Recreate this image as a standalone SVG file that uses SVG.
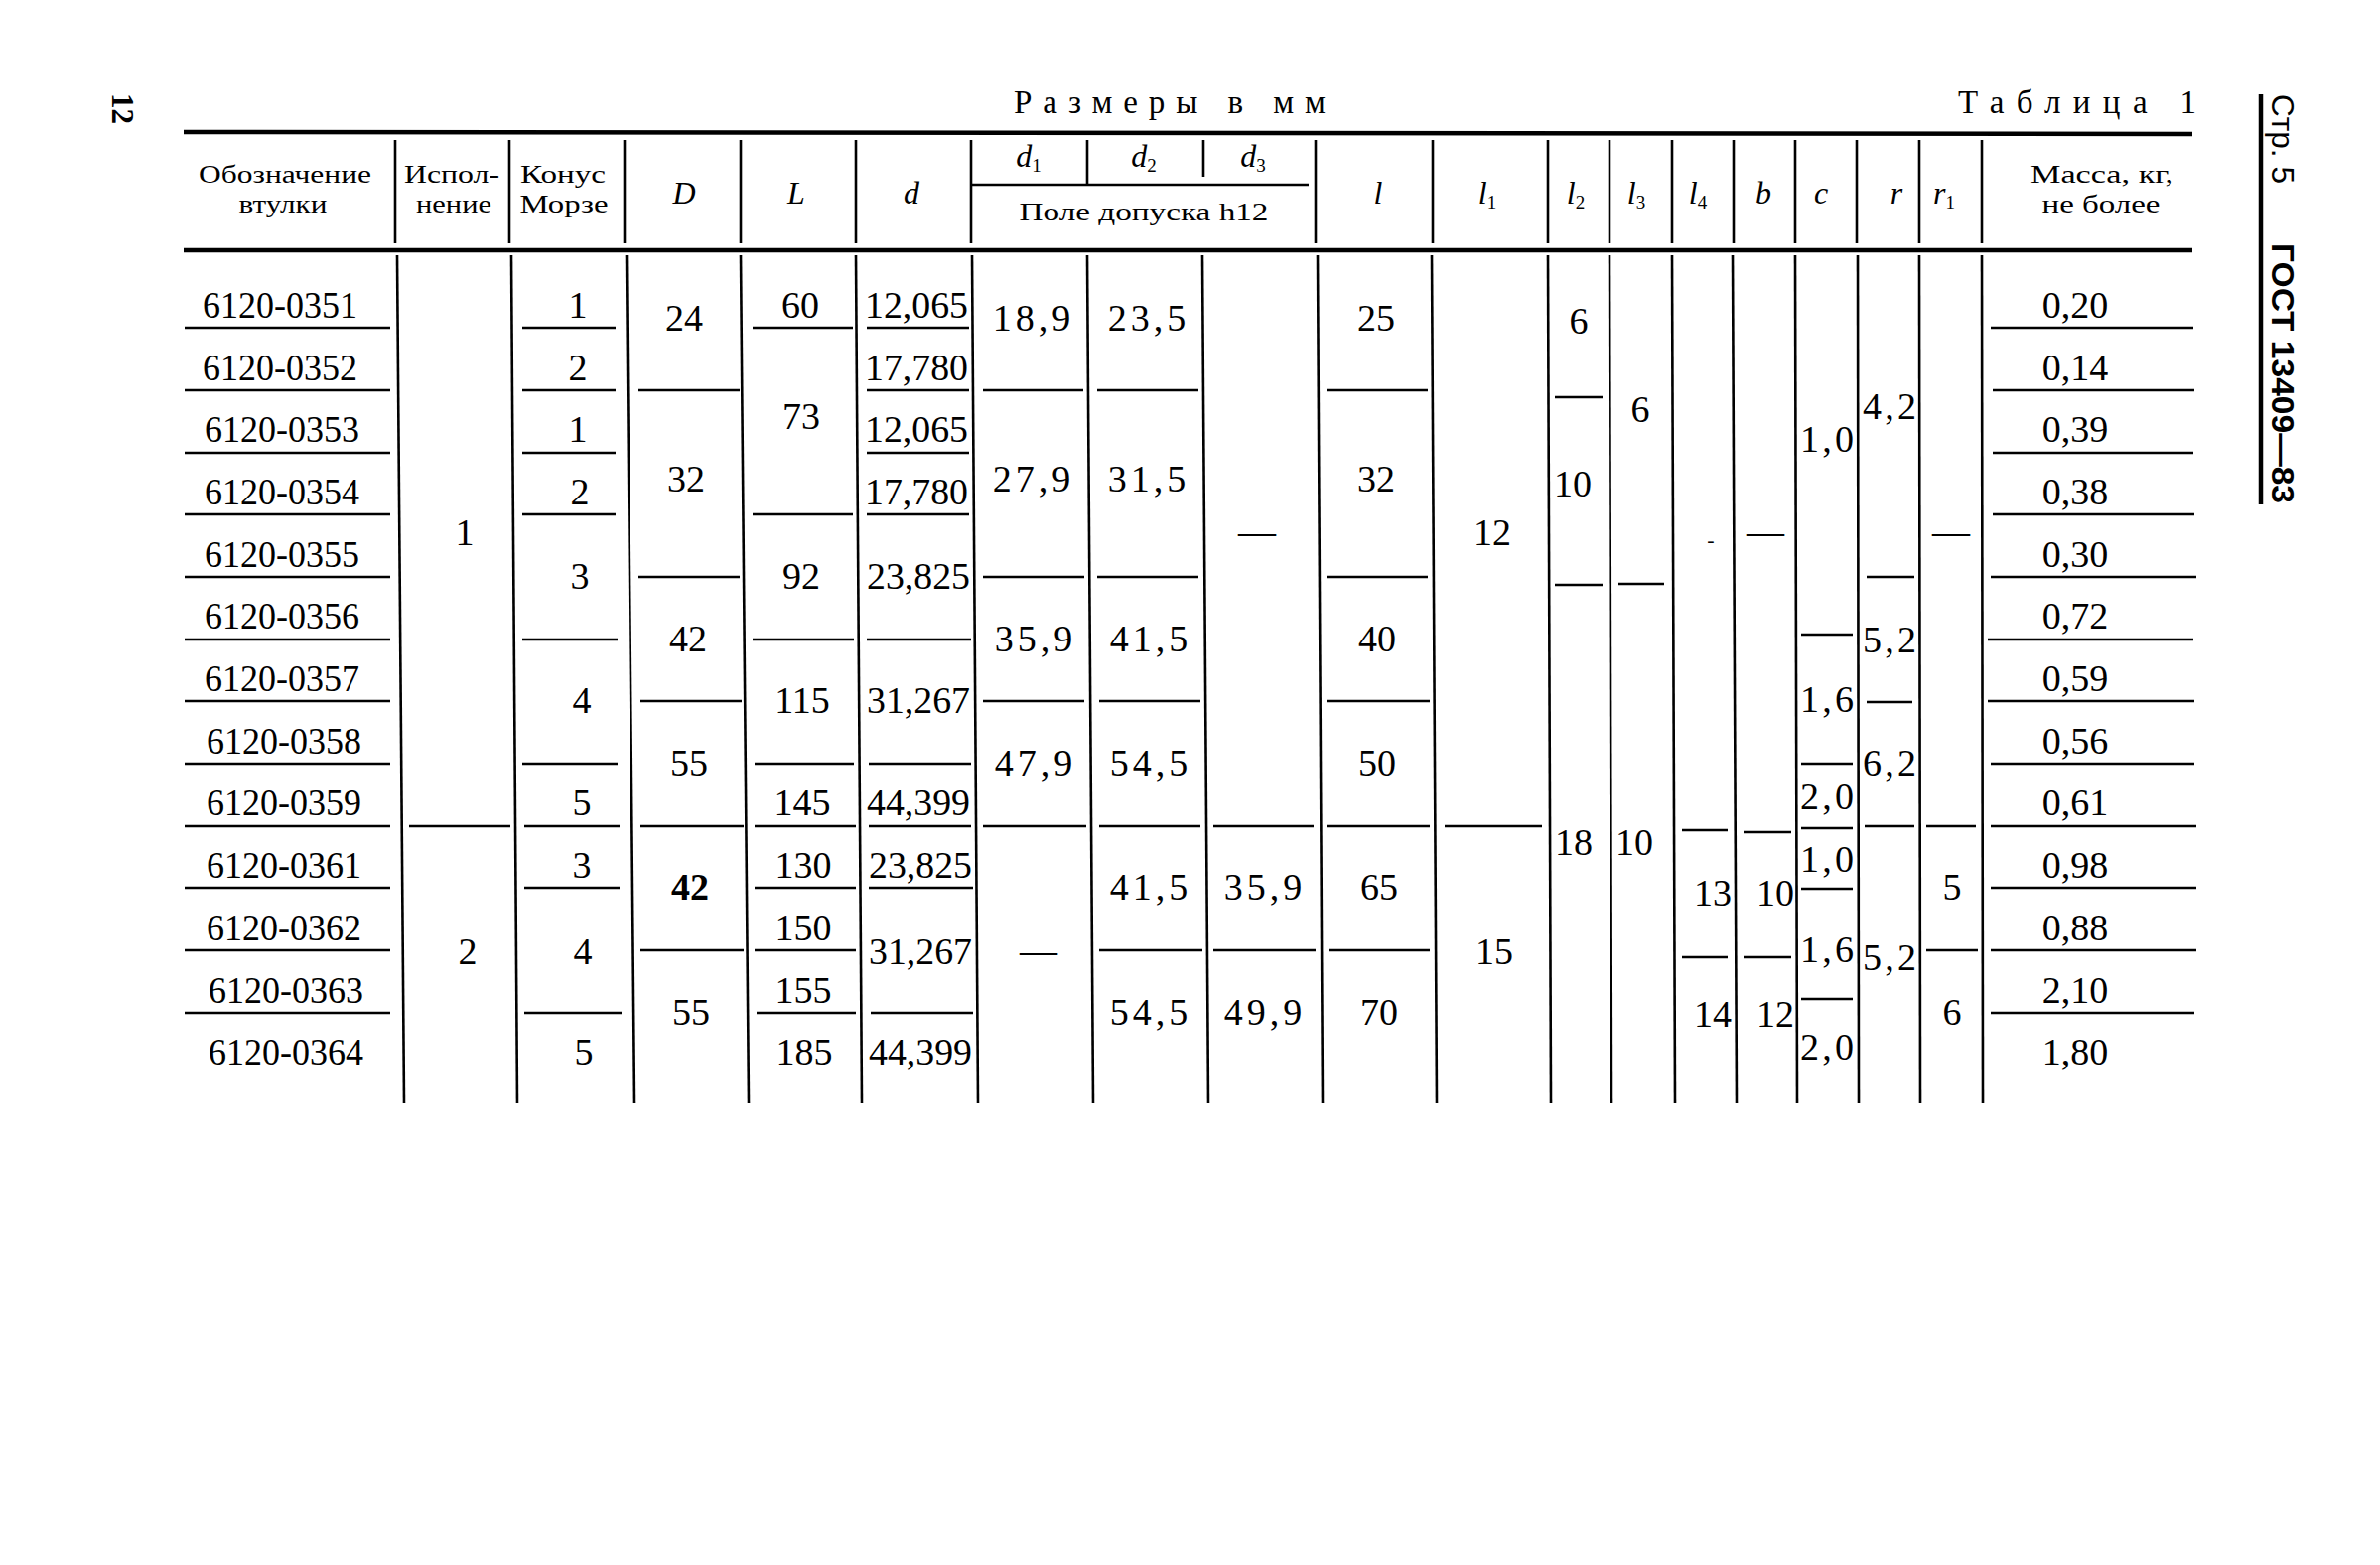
<svg xmlns="http://www.w3.org/2000/svg" width="2397" height="1576" viewBox="0 0 2397 1576">
<style>
text{font-family:"Liberation Serif","DejaVu Serif",serif;fill:#000}
.b{font-size:38px;text-anchor:middle}
.sp{letter-spacing:4px}
.h{font-size:26px;text-anchor:middle}
.i{font-size:32px;font-style:italic;text-anchor:middle}
.s{font-size:19px;font-style:normal}
.g line{stroke:#000;stroke-width:2.6}
.rule{stroke:#000;stroke-width:4.5}
</style>
<rect width="2397" height="1576" fill="#fff"/>
<g id="page">
<text transform="translate(113,94) rotate(90)" style="font-size:31px;font-weight:bold">12</text>
<text x="1021" y="114" style="font-size:33px" textLength="314" lengthAdjust="spacing">Размеры в мм</text>
<text x="1972" y="114" style="font-size:33px" textLength="240" lengthAdjust="spacing">Таблица 1</text>
<line x1="2277" y1="95" x2="2277" y2="508" class="rule"/>
<text transform="translate(2288,95) rotate(90)" style="font-family:'Liberation Sans',sans-serif;font-size:32px" textLength="90" lengthAdjust="spacingAndGlyphs">Стр. 5</text>
<text transform="translate(2288,245) rotate(90)" style="font-family:'Liberation Sans',sans-serif;font-size:32px;font-weight:bold" textLength="262" lengthAdjust="spacingAndGlyphs">ГОСТ 13409—83</text>
</g>
<g id="rules">
<line x1="185" y1="133" x2="2208" y2="135" class="rule"/>
<line x1="185" y1="252" x2="2208" y2="252" class="rule"/>
</g>
<g id="header-lines" class="g">
<line x1="398" y1="141" x2="398" y2="245"/>
<line x1="513" y1="141" x2="513" y2="245"/>
<line x1="629" y1="141" x2="629" y2="245"/>
<line x1="746" y1="141" x2="746" y2="245"/>
<line x1="862" y1="141" x2="862" y2="245"/>
<line x1="978" y1="141" x2="978" y2="245"/>
<line x1="1095" y1="141" x2="1095" y2="186"/>
<line x1="1212" y1="141" x2="1212" y2="178"/>
<line x1="978" y1="186" x2="1318" y2="186"/>
<line x1="1325" y1="141" x2="1325" y2="245"/>
<line x1="1443" y1="141" x2="1443" y2="245"/>
<line x1="1559" y1="141" x2="1559" y2="245"/>
<line x1="1621" y1="141" x2="1621" y2="245"/>
<line x1="1684" y1="141" x2="1684" y2="245"/>
<line x1="1746" y1="141" x2="1746" y2="245"/>
<line x1="1808" y1="141" x2="1808" y2="245"/>
<line x1="1870" y1="141" x2="1870" y2="245"/>
<line x1="1933" y1="141" x2="1933" y2="245"/>
<line x1="1996" y1="141" x2="1996" y2="245"/>
</g>
<g id="header-text">
<text class="h" x="287" y="184" textLength="174" lengthAdjust="spacingAndGlyphs">Обозначение</text>
<text class="h" x="285" y="214" textLength="89" lengthAdjust="spacingAndGlyphs">втулки</text>
<text class="h" x="455" y="184" textLength="96" lengthAdjust="spacingAndGlyphs">Испол-</text>
<text class="h" x="457" y="214" textLength="76" lengthAdjust="spacingAndGlyphs">нение</text>
<text class="h" x="567" y="184" textLength="86" lengthAdjust="spacingAndGlyphs">Конус</text>
<text class="h" x="568" y="214" textLength="89" lengthAdjust="spacingAndGlyphs">Морзе</text>
<text class="i" x="689" y="205">D</text>
<text class="i" x="802" y="205">L</text>
<text class="i" x="918" y="205">d</text>
<text class="i" x="1036" y="168">d<tspan class="s" dy="5">1</tspan></text>
<text class="i" x="1152" y="168">d<tspan class="s" dy="5">2</tspan></text>
<text class="i" x="1262" y="168">d<tspan class="s" dy="5">3</tspan></text>
<text class="h" x="1152" y="222" textLength="251" lengthAdjust="spacingAndGlyphs">Поле допуска h12</text>
<text class="i" x="1388" y="205">l</text>
<text class="i" x="1498" y="205">l<tspan class="s" dy="5">1</tspan></text>
<text class="i" x="1587" y="205">l<tspan class="s" dy="5">2</tspan></text>
<text class="i" x="1648" y="205">l<tspan class="s" dy="5">3</tspan></text>
<text class="i" x="1710" y="205">l<tspan class="s" dy="5">4</tspan></text>
<text class="i" x="1776" y="205">b</text>
<text class="i" x="1834" y="205">c</text>
<text class="i" x="1910" y="205">r</text>
<text class="i" x="1958" y="205">r<tspan class="s" dy="5">1</tspan></text>
<text class="h" x="2117" y="184" textLength="144" lengthAdjust="spacingAndGlyphs">Масса, кг,</text>
<text class="h" x="2116" y="214" textLength="119" lengthAdjust="spacingAndGlyphs">не более</text>
</g>
<g id="body-verticals" class="g">
<line x1="400" y1="257" x2="407" y2="1111"/>
<line x1="515" y1="257" x2="521" y2="1111"/>
<line x1="631" y1="257" x2="639" y2="1111"/>
<line x1="746" y1="257" x2="754" y2="1111"/>
<line x1="862" y1="257" x2="868" y2="1111"/>
<line x1="979" y1="257" x2="985" y2="1111"/>
<line x1="1095" y1="257" x2="1101" y2="1111"/>
<line x1="1211" y1="257" x2="1217" y2="1111"/>
<line x1="1327" y1="257" x2="1332" y2="1111"/>
<line x1="1442" y1="257" x2="1447" y2="1111"/>
<line x1="1559" y1="257" x2="1562" y2="1111"/>
<line x1="1621" y1="257" x2="1623" y2="1111"/>
<line x1="1684" y1="257" x2="1687" y2="1111"/>
<line x1="1745" y1="257" x2="1749" y2="1111"/>
<line x1="1808" y1="257" x2="1810" y2="1111"/>
<line x1="1871" y1="257" x2="1872" y2="1111"/>
<line x1="1933" y1="257" x2="1934" y2="1111"/>
<line x1="1996" y1="257" x2="1997" y2="1111"/>
</g>
<g id="body-separators" class="g">
<line x1="186" y1="330" x2="393" y2="330"/>
<line x1="186" y1="393" x2="393" y2="393"/>
<line x1="186" y1="456" x2="393" y2="456"/>
<line x1="186" y1="518" x2="393" y2="518"/>
<line x1="186" y1="581" x2="393" y2="581"/>
<line x1="186" y1="644" x2="393" y2="644"/>
<line x1="186" y1="706" x2="393" y2="706"/>
<line x1="186" y1="769" x2="393" y2="769"/>
<line x1="186" y1="832" x2="393" y2="832"/>
<line x1="186" y1="894" x2="393" y2="894"/>
<line x1="186" y1="957" x2="393" y2="957"/>
<line x1="186" y1="1020" x2="393" y2="1020"/>
<line x1="412" y1="832" x2="514" y2="832"/>
<line x1="526" y1="330" x2="620" y2="330"/>
<line x1="526" y1="393" x2="620" y2="393"/>
<line x1="526" y1="456" x2="620" y2="456"/>
<line x1="526" y1="518" x2="620" y2="518"/>
<line x1="526" y1="644" x2="622" y2="644"/>
<line x1="526" y1="769" x2="622" y2="769"/>
<line x1="528" y1="832" x2="624" y2="832"/>
<line x1="528" y1="894" x2="624" y2="894"/>
<line x1="528" y1="1020" x2="626" y2="1020"/>
<line x1="643" y1="393" x2="745" y2="393"/>
<line x1="643" y1="581" x2="745" y2="581"/>
<line x1="645" y1="706" x2="747" y2="706"/>
<line x1="645" y1="832" x2="749" y2="832"/>
<line x1="645" y1="957" x2="749" y2="957"/>
<line x1="758" y1="330" x2="859" y2="330"/>
<line x1="758" y1="518" x2="859" y2="518"/>
<line x1="758" y1="644" x2="860" y2="644"/>
<line x1="760" y1="769" x2="860" y2="769"/>
<line x1="760" y1="832" x2="862" y2="832"/>
<line x1="760" y1="894" x2="862" y2="894"/>
<line x1="760" y1="957" x2="862" y2="957"/>
<line x1="762" y1="1020" x2="862" y2="1020"/>
<line x1="873" y1="330" x2="976" y2="330"/>
<line x1="873" y1="393" x2="976" y2="393"/>
<line x1="873" y1="456" x2="976" y2="456"/>
<line x1="873" y1="518" x2="976" y2="518"/>
<line x1="873" y1="644" x2="978" y2="644"/>
<line x1="875" y1="769" x2="978" y2="769"/>
<line x1="875" y1="832" x2="978" y2="832"/>
<line x1="875" y1="894" x2="980" y2="894"/>
<line x1="877" y1="1020" x2="980" y2="1020"/>
<line x1="990" y1="393" x2="1091" y2="393"/>
<line x1="990" y1="581" x2="1092" y2="581"/>
<line x1="990" y1="706" x2="1092" y2="706"/>
<line x1="990" y1="832" x2="1094" y2="832"/>
<line x1="1105" y1="393" x2="1207" y2="393"/>
<line x1="1105" y1="581" x2="1207" y2="581"/>
<line x1="1107" y1="706" x2="1209" y2="706"/>
<line x1="1107" y1="832" x2="1209" y2="832"/>
<line x1="1107" y1="957" x2="1211" y2="957"/>
<line x1="1222" y1="832" x2="1323" y2="832"/>
<line x1="1222" y1="957" x2="1325" y2="957"/>
<line x1="1336" y1="393" x2="1438" y2="393"/>
<line x1="1336" y1="581" x2="1438" y2="581"/>
<line x1="1336" y1="706" x2="1440" y2="706"/>
<line x1="1336" y1="832" x2="1440" y2="832"/>
<line x1="1338" y1="957" x2="1440" y2="957"/>
<line x1="1455" y1="832" x2="1553" y2="832"/>
<line x1="1566" y1="400" x2="1614" y2="400"/>
<line x1="1566" y1="589" x2="1614" y2="589"/>
<line x1="1630" y1="588" x2="1676" y2="588"/>
<line x1="1694" y1="836" x2="1740" y2="836"/>
<line x1="1694" y1="964" x2="1740" y2="964"/>
<line x1="1756" y1="838" x2="1804" y2="838"/>
<line x1="1756" y1="964" x2="1804" y2="964"/>
<line x1="1814" y1="639" x2="1866" y2="639"/>
<line x1="1814" y1="769" x2="1866" y2="769"/>
<line x1="1814" y1="834" x2="1866" y2="834"/>
<line x1="1814" y1="895" x2="1866" y2="895"/>
<line x1="1814" y1="1006" x2="1866" y2="1006"/>
<line x1="1880" y1="581" x2="1928" y2="581"/>
<line x1="1880" y1="707" x2="1926" y2="707"/>
<line x1="1878" y1="832" x2="1928" y2="832"/>
<line x1="1940" y1="832" x2="1990" y2="832"/>
<line x1="1940" y1="957" x2="1992" y2="957"/>
<line x1="2005" y1="330" x2="2209" y2="330"/>
<line x1="2007" y1="393" x2="2210" y2="393"/>
<line x1="2007" y1="456" x2="2209" y2="456"/>
<line x1="2007" y1="518" x2="2210" y2="518"/>
<line x1="2005" y1="581" x2="2212" y2="581"/>
<line x1="2002" y1="644" x2="2209" y2="644"/>
<line x1="2002" y1="706" x2="2210" y2="706"/>
<line x1="2005" y1="769" x2="2210" y2="769"/>
<line x1="2005" y1="832" x2="2212" y2="832"/>
<line x1="2005" y1="894" x2="2212" y2="894"/>
<line x1="2005" y1="957" x2="2212" y2="957"/>
<line x1="2005" y1="1020" x2="2210" y2="1020"/>
</g>
<g id="col-designation">
<text class="b" x="282" y="320" textLength="156" lengthAdjust="spacingAndGlyphs">6120-0351</text>
<text class="b" x="282" y="383" textLength="156" lengthAdjust="spacingAndGlyphs">6120-0352</text>
<text class="b" x="284" y="445" textLength="156" lengthAdjust="spacingAndGlyphs">6120-0353</text>
<text class="b" x="284" y="508" textLength="156" lengthAdjust="spacingAndGlyphs">6120-0354</text>
<text class="b" x="284" y="571" textLength="156" lengthAdjust="spacingAndGlyphs">6120-0355</text>
<text class="b" x="284" y="633" textLength="156" lengthAdjust="spacingAndGlyphs">6120-0356</text>
<text class="b" x="284" y="696" textLength="156" lengthAdjust="spacingAndGlyphs">6120-0357</text>
<text class="b" x="286" y="759" textLength="156" lengthAdjust="spacingAndGlyphs">6120-0358</text>
<text class="b" x="286" y="821" textLength="156" lengthAdjust="spacingAndGlyphs">6120-0359</text>
<text class="b" x="286" y="884" textLength="156" lengthAdjust="spacingAndGlyphs">6120-0361</text>
<text class="b" x="286" y="947" textLength="156" lengthAdjust="spacingAndGlyphs">6120-0362</text>
<text class="b" x="288" y="1010" textLength="156" lengthAdjust="spacingAndGlyphs">6120-0363</text>
<text class="b" x="288" y="1072" textLength="156" lengthAdjust="spacingAndGlyphs">6120-0364</text>
</g>
<g id="col-ispolnenie">
<text class="b" x="468" y="549">1</text>
<text class="b" x="471" y="971">2</text>
</g>
<g id="col-konus">
<text class="b" x="582" y="320">1</text>
<text class="b" x="582" y="383">2</text>
<text class="b" x="582" y="445">1</text>
<text class="b" x="584" y="508">2</text>
<text class="b" x="584" y="593">3</text>
<text class="b" x="586" y="718">4</text>
<text class="b" x="586" y="821">5</text>
<text class="b" x="586" y="884">3</text>
<text class="b" x="587" y="971">4</text>
<text class="b" x="588" y="1072">5</text>
</g>
<g id="col-D">
<text class="b" x="689" y="333">24</text>
<text class="b" x="691" y="495">32</text>
<text class="b" x="693" y="656">42</text>
<text class="b" x="694" y="781">55</text>
<text class="b" x="695" y="906" style="font-weight:bold">42</text>
<text class="b" x="696" y="1032">55</text>
</g>
<g id="col-L">
<text class="b" x="806" y="320">60</text>
<text class="b" x="807" y="432">73</text>
<text class="b" x="807" y="593">92</text>
<text class="b" x="808" y="718">115</text>
<text class="b" x="808" y="821">145</text>
<text class="b" x="809" y="884">130</text>
<text class="b" x="809" y="947">150</text>
<text class="b" x="809" y="1010">155</text>
<text class="b" x="810" y="1072">185</text>
</g>
<g id="col-d">
<text class="b" x="923" y="320" textLength="104" lengthAdjust="spacingAndGlyphs">12,065</text>
<text class="b" x="923" y="383" textLength="104" lengthAdjust="spacingAndGlyphs">17,780</text>
<text class="b" x="923" y="445" textLength="104" lengthAdjust="spacingAndGlyphs">12,065</text>
<text class="b" x="923" y="508" textLength="104" lengthAdjust="spacingAndGlyphs">17,780</text>
<text class="b" x="925" y="593" textLength="104" lengthAdjust="spacingAndGlyphs">23,825</text>
<text class="b" x="925" y="718" textLength="104" lengthAdjust="spacingAndGlyphs">31,267</text>
<text class="b" x="925" y="821" textLength="104" lengthAdjust="spacingAndGlyphs">44,399</text>
<text class="b" x="927" y="884" textLength="104" lengthAdjust="spacingAndGlyphs">23,825</text>
<text class="b" x="927" y="971" textLength="104" lengthAdjust="spacingAndGlyphs">31,267</text>
<text class="b" x="927" y="1072" textLength="104" lengthAdjust="spacingAndGlyphs">44,399</text>
</g>
<g id="col-d1">
<text class="b sp" x="1041" y="333">18,9</text>
<text class="b sp" x="1041" y="495">27,9</text>
<text class="b sp" x="1043" y="656">35,9</text>
<text class="b sp" x="1043" y="781">47,9</text>
<text class="b" x="1046" y="970">—</text>
</g>
<g id="col-d2">
<text class="b sp" x="1157" y="333">23,5</text>
<text class="b sp" x="1157" y="495">31,5</text>
<text class="b sp" x="1159" y="656">41,5</text>
<text class="b sp" x="1159" y="781">54,5</text>
<text class="b sp" x="1159" y="906">41,5</text>
<text class="b sp" x="1159" y="1032">54,5</text>
</g>
<g id="col-d3">
<text class="b" x="1266" y="548">—</text>
<text class="b sp" x="1274" y="906">35,9</text>
<text class="b sp" x="1274" y="1032">49,9</text>
</g>
<g id="col-l">
<text class="b" x="1386" y="333">25</text>
<text class="b" x="1386" y="495">32</text>
<text class="b" x="1387" y="656">40</text>
<text class="b" x="1387" y="781">50</text>
<text class="b" x="1389" y="906">65</text>
<text class="b" x="1389" y="1032">70</text>
</g>
<g id="col-l1">
<text class="b" x="1503" y="549">12</text>
<text class="b" x="1505" y="971">15</text>
</g>
<g id="col-l2">
<text class="b" x="1590" y="336">6</text>
<text class="b" x="1584" y="500">10</text>
<text class="b" x="1585" y="861">18</text>
</g>
<g id="col-l3">
<text class="b" x="1652" y="425">6</text>
<text class="b" x="1646" y="861">10</text>
</g>
<g id="col-l4">
<text class="b" x="1723" y="551" style="font-size:22px">-</text>
<text class="b" x="1725" y="912">13</text>
<text class="b" x="1725" y="1034">14</text>
</g>
<g id="col-b">
<text class="b" x="1778" y="548">—</text>
<text class="b" x="1788" y="912">10</text>
<text class="b" x="1788" y="1034">12</text>
</g>
<g id="col-c">
<text class="b" x="1840" y="455" textLength="54" lengthAdjust="spacing">1,0</text>
<text class="b" x="1840" y="717" textLength="54" lengthAdjust="spacing">1,6</text>
<text class="b" x="1840" y="815" textLength="54" lengthAdjust="spacing">2,0</text>
<text class="b" x="1840" y="878" textLength="54" lengthAdjust="spacing">1,0</text>
<text class="b" x="1840" y="969" textLength="54" lengthAdjust="spacing">1,6</text>
<text class="b" x="1840" y="1067" textLength="54" lengthAdjust="spacing">2,0</text>
</g>
<g id="col-r">
<text class="b" x="1903" y="422" textLength="54" lengthAdjust="spacing">4,2</text>
<text class="b" x="1903" y="657" textLength="54" lengthAdjust="spacing">5,2</text>
<text class="b" x="1903" y="781" textLength="54" lengthAdjust="spacing">6,2</text>
<text class="b" x="1903" y="977" textLength="54" lengthAdjust="spacing">5,2</text>
</g>
<g id="col-r1">
<text class="b" x="1965" y="548">—</text>
<text class="b" x="1966" y="906">5</text>
<text class="b" x="1966" y="1032">6</text>
</g>
<g id="col-massa">
<text class="b" x="2090" y="320">0,20</text>
<text class="b" x="2090" y="383">0,14</text>
<text class="b" x="2090" y="445">0,39</text>
<text class="b" x="2090" y="508">0,38</text>
<text class="b" x="2090" y="571">0,30</text>
<text class="b" x="2090" y="633">0,72</text>
<text class="b" x="2090" y="696">0,59</text>
<text class="b" x="2090" y="759">0,56</text>
<text class="b" x="2090" y="821">0,61</text>
<text class="b" x="2090" y="884">0,98</text>
<text class="b" x="2090" y="947">0,88</text>
<text class="b" x="2090" y="1010">2,10</text>
<text class="b" x="2090" y="1072">1,80</text>
</g>
</svg>
